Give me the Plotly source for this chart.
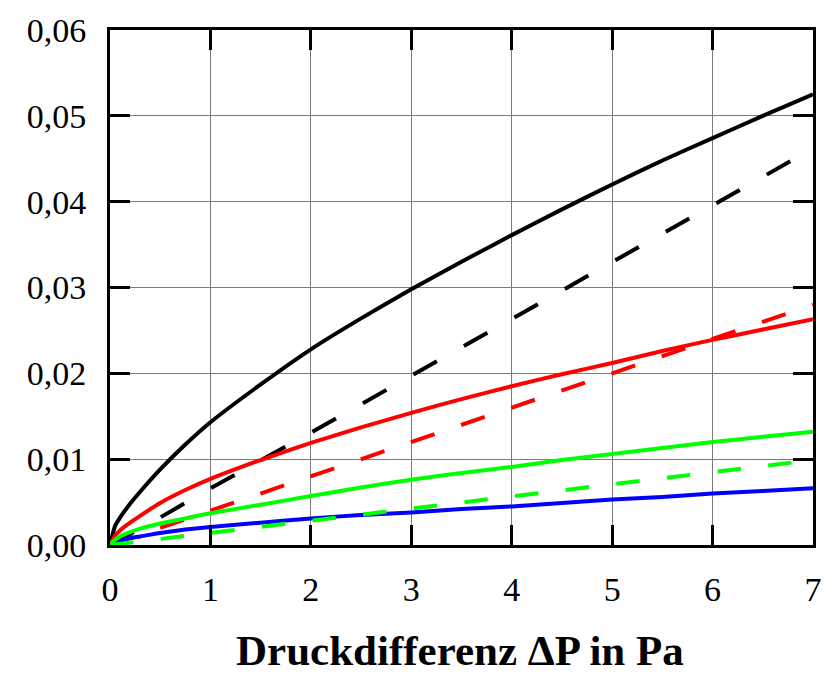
import plotly.graph_objects as go

x_dense = [0, 0.05, 0.1, 0.2, 0.3, 0.5, 0.75, 1, 1.5, 2, 2.5, 3, 3.5, 4, 4.5, 5, 5.5, 6, 6.5, 7]
black_solid = [0, 0.0022, 0.0032, 0.0048, 0.0062, 0.0088, 0.0117, 0.0143, 0.0187, 0.0228, 0.0264,
               0.0298, 0.0330, 0.0361, 0.0391, 0.0420, 0.0448, 0.0474, 0.0500, 0.0525]
red_solid = [0, 0.0011, 0.0017, 0.0026, 0.0034, 0.0049, 0.0064, 0.0077, 0.0099, 0.0119, 0.0137,
             0.0154, 0.0170, 0.0185, 0.0199, 0.0212, 0.0226, 0.0239, 0.0251, 0.0263]
green_solid = [0, 0.0006, 0.0010, 0.0015, 0.0019, 0.0025, 0.0031, 0.0037, 0.0047, 0.0057, 0.0067,
               0.0076, 0.0084, 0.0091, 0.0099, 0.0106, 0.0113, 0.0120, 0.0126, 0.0132]
blue_solid = [0, 0.0003, 0.0005, 0.0008, 0.0010, 0.0014, 0.0018, 0.0021, 0.0026, 0.0031, 0.0035,
              0.0038, 0.0042, 0.0045, 0.0049, 0.0053, 0.0056, 0.0060, 0.0063, 0.0066]

x_lin = [0, 0.5, 1, 1.5, 2, 2.5, 3, 3.5, 4, 4.5, 5, 5.5, 6, 6.5, 7]
black_dashed = [0, 0.0032, 0.0066, 0.0098, 0.0131, 0.0164, 0.0197, 0.0230, 0.0263, 0.0296,
                0.0329, 0.0362, 0.0396, 0.0429, 0.0462]
red_dashed = [0, 0.0020, 0.0040, 0.0060, 0.0079, 0.0099, 0.0120, 0.0140, 0.0160, 0.0180,
              0.0200, 0.0220, 0.0240, 0.0260, 0.0280]
green_dashed = [0, 0.0007, 0.0014, 0.0021, 0.0029, 0.0036, 0.0043, 0.0050, 0.0057, 0.0064,
                0.0071, 0.0078, 0.0085, 0.0092, 0.0099]

x_ticks = [0, 1, 2, 3, 4, 5, 6, 7]
y_ticks = [0, 0.01, 0.02, 0.03, 0.04, 0.05, 0.06]
y_tick_labels = ["0,00", "0,01", "0,02", "0,03", "0,04", "0,05", "0,06"]
x_title = "Druckdifferenz ΔP in Pa"

LW = 4
SM = 0.5
fig = go.Figure()
fig.add_trace(go.Scatter(x=x_dense, y=black_solid, mode="lines",
                         line=dict(color="#000000", width=LW, shape="spline", smoothing=SM)))
fig.add_trace(go.Scatter(x=x_lin, y=black_dashed, mode="lines",
                         line=dict(color="#000000", width=LW, dash="27px,31px")))
fig.add_trace(go.Scatter(x=x_dense, y=red_solid, mode="lines",
                         line=dict(color="#ff0000", width=LW, shape="spline", smoothing=SM)))
fig.add_trace(go.Scatter(x=x_lin, y=red_dashed, mode="lines",
                         line=dict(color="#ff0000", width=LW, dash="25px,28px")))
fig.add_trace(go.Scatter(x=x_dense, y=blue_solid, mode="lines",
                         line=dict(color="#0000ff", width=LW, shape="spline", smoothing=SM)))
fig.add_trace(go.Scatter(x=x_dense, y=green_solid, mode="lines",
                         line=dict(color="#00ff00", width=LW, shape="spline", smoothing=SM)))
fig.add_trace(go.Scatter(x=x_lin, y=green_dashed, mode="lines",
                         line=dict(color="#00ff00", width=LW, dash="23.5px,27.5px")))

font_family = "Liberation Serif"
axis_common = dict(
    showline=True, linecolor="black", linewidth=3, mirror="ticks",
    ticks="inside", ticklen=20, tickwidth=3, tickcolor="black",
    showgrid=True, gridcolor="#7a7a7a", gridwidth=1,
    zeroline=False,
    tickfont=dict(family=font_family, size=34, color="black"),
)
fig.update_xaxes(range=[0, 7], tickvals=x_ticks, ticktext=[str(v) for v in x_ticks],
                 ticklabelstandoff=12, **axis_common)
fig.update_yaxes(range=[0, 0.06], tickvals=y_ticks, ticktext=y_tick_labels,
                 ticklabelstandoff=14, **axis_common)

fig.add_annotation(text="<b>" + x_title + "</b>", xref="paper", yref="paper",
                   x=(462 - 110) / 707, y=-(651 - 545) / 517, xanchor="center", yanchor="middle",
                   showarrow=False, font=dict(family=font_family, size=43, color="black"))

fig.update_layout(
    width=834, height=679,
    margin=dict(l=110, r=17, t=28, b=134),
    paper_bgcolor="white", plot_bgcolor="white",
    showlegend=False,
)
fig.write_html("out.html")
